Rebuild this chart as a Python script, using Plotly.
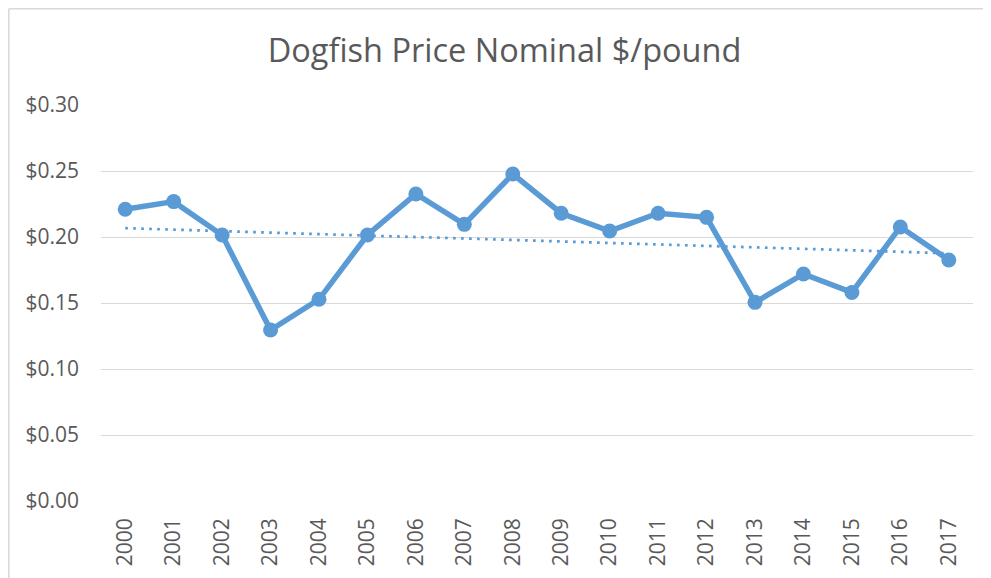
import numpy as np
import plotly.graph_objects as go

years = [str(y) for y in range(2000, 2018)]
prices = [0.221, 0.2268, 0.2015, 0.1295, 0.1528, 0.2015, 0.2326, 0.2096, 0.2477,
          0.218, 0.2045, 0.218, 0.2149, 0.1505, 0.172, 0.158, 0.2076, 0.1826]
y_ticks = [0.0, 0.05, 0.10, 0.15, 0.20, 0.25, 0.30]
y_labels = ["$0.00", "$0.05", "$0.10", "$0.15", "$0.20", "$0.25", "$0.30"]
title_text = "Dogfish Price Nominal $/pound"

# linear trendline (least squares fit of the series)
idx = np.arange(len(prices))
slope, intercept = np.polyfit(idx, prices, 1)
trend = (slope * idx + intercept).tolist()

# page body has an 8px offset; figure coordinates are shifted accordingly
OFF = 8
W, H = 991, 578
L, T = 101 - OFF, 105 - OFF
R = W - (973 - OFF)
B = H - (501 - OFF)
pw, ph = W - L - R, H - T - B

BLUE = "#5B9BD5"
GRAY_TXT = "#595959"
GRID = "#D9D9D9"
FONT = "Open Sans"

fig = go.Figure()
fig.add_trace(go.Scatter(x=years, y=trend, mode="lines",
                         line=dict(color=BLUE, width=2.7, dash="2.7px,5.3px"),
                         hoverinfo="skip", showlegend=False))
fig.add_trace(go.Scatter(x=years, y=prices, mode="lines+markers",
                         line=dict(color=BLUE, width=5.5),
                         marker=dict(color=BLUE, size=15),
                         showlegend=False))

# chart border: top and left edges (the others fall outside the view)
bx0, by0 = 0.8, 0.8
px = lambda v: (v - L) / pw
py = lambda v: (H - B - v) / ph
border = dict(type="line", xref="paper", yref="paper",
              line=dict(color=GRID, width=1.5), layer="below")
fig.update_layout(
    width=W, height=H,
    margin=dict(l=L, r=R, t=T, b=B, autoexpand=False),
    paper_bgcolor="white", plot_bgcolor="white",
    font=dict(family=FONT, color=GRAY_TXT, size=21),
    title=dict(text=title_text, x=(504.5 - OFF) / W, xanchor="center", xref="container",
               y=1 - (51 - OFF) / H, yanchor="middle", yref="container",
               font=dict(family=FONT, size=32.5, color=GRAY_TXT)),
    xaxis=dict(type="category", range=[-0.5, len(years) - 0.5], tickangle=-90,
               showgrid=False, showline=False, zeroline=False, ticks="",
               ticklabelstandoff=12, automargin=False,
               tickfont=dict(size=21, color=GRAY_TXT)),
    yaxis=dict(range=[0, 0.30], tickvals=y_ticks, ticktext=y_labels,
               showgrid=True, gridcolor=GRID, gridwidth=1.3, zeroline=False,
               showline=False, ticks="", ticklabelstandoff=21, automargin=False,
               tickfont=dict(size=21, color=GRAY_TXT)),
    shapes=[
        dict(border, x0=px(bx0), x1=px(W), y0=py(by0), y1=py(by0)),
        dict(border, x0=px(bx0), x1=px(bx0), y0=py(by0), y1=py(H)),
    ],
)

fig.write_html("out.html")
